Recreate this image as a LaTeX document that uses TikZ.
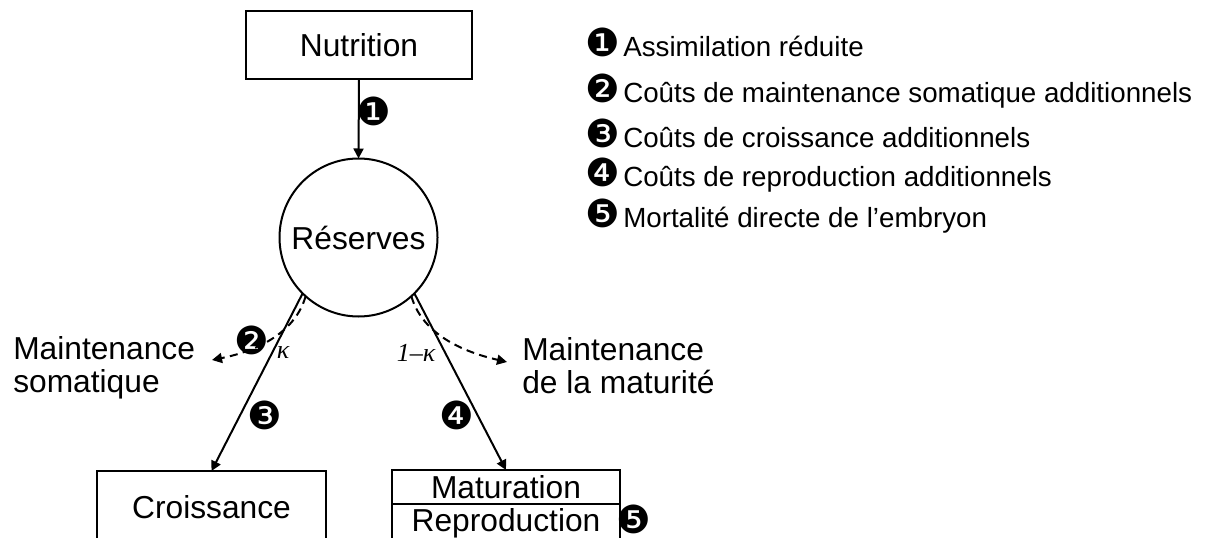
\documentclass[tikz,border=0pt]{standalone}
\usepackage{fontspec}
\setmainfont{Liberation Sans}
\newfontfamily\dejavu{DejaVu Sans}
\newfontfamily\timesfont{Liberation Serif}
\usetikzlibrary{arrows.meta, positioning}

\newcommand{\puce}[1]{\makebox[28.5pt][l]{\dejavu\fontsize{29}{29}\selectfont #1}}

\tikzset{
  box/.style={draw, line width=1.5pt, outer sep=0pt, inner sep=0pt, font=\fontsize{23.8}{24}\selectfont},
  flux/.style={line width=1.5pt, -{Triangle[length=7.5pt,width=7.5pt]}},
  perte/.style={flux, dash pattern=on 6pt off 4pt},
  pastille/.style={inner sep=0pt, font=\dejavu\fontsize{29}{29}\selectfont},
  kappa/.style={inner sep=0pt, font=\timesfont\itshape\fontsize{19.5}{19.5}\selectfont},
  etiquette/.style={anchor=west, align=left, inner sep=0pt, font=\fontsize{23.8}{24.75}\selectfont},
  legende/.style={anchor=base west, inner sep=0pt, font=\fontsize{20.8}{21}\selectfont},
}

\begin{document}
\begin{tikzpicture}[x=0.75pt,y=0.75pt,yscale=-1,xscale=1]
        \useasboundingbox (0,0) rectangle (1205,538);
        \clip (0,0) rectangle (1205,538);

        %Shape: Rectangle [id:nutr]
        \node[box, minimum width=169.5pt, minimum height=51pt] (nutr) at (359,45) {Nutrition};
        %Shape: Circle [id:res]
        \node[box, circle, minimum size=118.5pt] (res) at (358.5,237.5) {Réserves};
        %Shape: Rectangle [id:crois]
        \node[box, minimum width=171.75pt, minimum height=54pt] (crois) at (211.5,507) {Croissance};
        %Shape: Rectangle [id:mat]
        \node[box, minimum width=171pt, minimum height=25.5pt] (mat) at (506,487) {Maturation};
        \node[box, minimum width=171pt, minimum height=28.5pt, below=0pt of mat] (repro) {Reproduction};

        % Flux
        \draw[flux] (nutr.south) -- (res.north);
        \draw[flux] (res.south west) -- (crois.north);
        \draw[flux] (res.south east) -- (mat.north);

        % Pertes (dashed)
        \coordinate (somat) at (212,360);
        \coordinate (matur) at (507,362);
        \draw[perte] (res.228) .. controls (296,330) and (262,350) .. (somat);
        \draw[perte] (res.312) .. controls (421,330) and (455,350) .. (matur);

        % Text Node
        \node[pastille] (n1) at (374,111) {❶};
        \node[pastille] (n2) at (252,340) {❷};
        \node[pastille] (n3) at (265,415) {❸};
        \node[pastille] (n4) at (457,415) {❹};
        \node[pastille] (n5) at (634,519) {❺};
        % Text Node
        \node[kappa] (k) at (283,353) {κ};
        \node[kappa] (unk) at (416,353) {1–κ};
        % Text Node
        \node[etiquette] (msom) at (13,368) {Maintenance\\somatique};
        \node[etiquette] (mmat) at (522,366) {Maintenance\\de la maturité};

        % Legende
        \node[legende] (l1) at (585,57) {\puce{❶}Assimilation réduite};
        \node[legende] (l2) at (585,103) {\puce{❷}Coûts de maintenance somatique additionnels};
        \node[legende] (l3) at (585,148) {\puce{❸}Coûts de croissance additionnels};
        \node[legende] (l4) at (585,187) {\puce{❹}Coûts de reproduction additionnels};
        \node[legende] (l5) at (585,228) {\puce{❺}Mortalité directe de l’embryon};

\end{tikzpicture}
\end{document}
